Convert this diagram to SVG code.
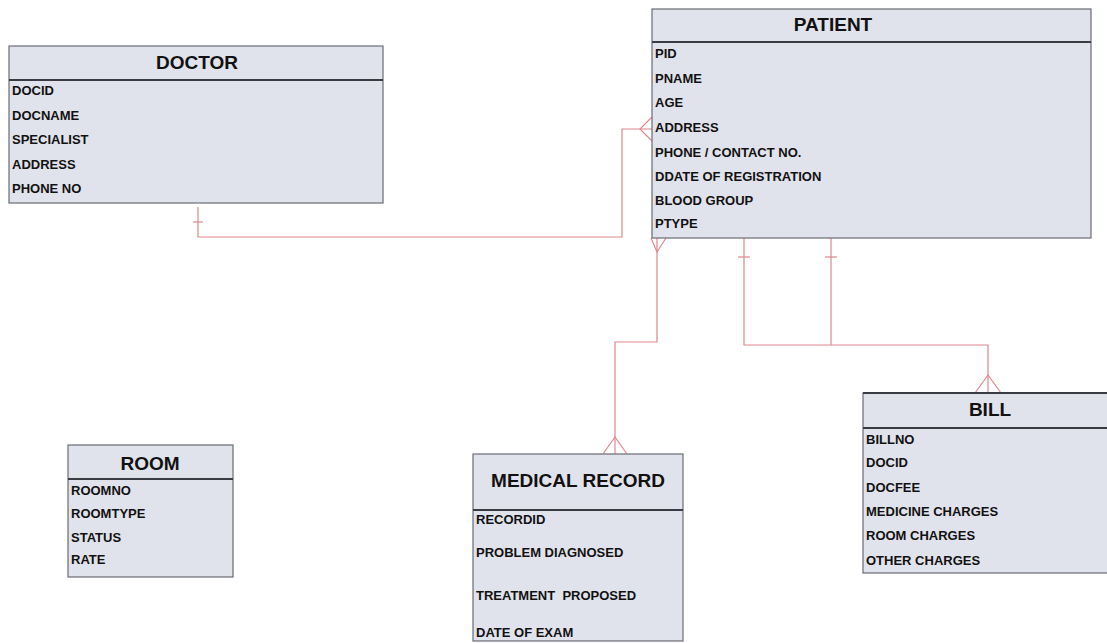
<svg xmlns="http://www.w3.org/2000/svg" width="1107" height="643" viewBox="0 0 1107 643">
<style>
.box{fill:#e1e3ec;stroke:#6a6c74;stroke-width:1.2}
.sep{stroke:#3a3c44;stroke-width:2}
.title{font-family:"Liberation Sans",Arial,sans-serif;font-weight:bold;font-size:19px;fill:#111;text-anchor:middle}
.attr{font-family:"Liberation Sans",Arial,sans-serif;font-weight:bold;font-size:13px;fill:#111}
.conn{fill:none;stroke:#e0888c;stroke-width:1.2}
</style>
<rect width="1107" height="643" fill="#ffffff"/>
<g id="connectors">
  <path class="conn" d="M198,207 V237 H622 V129 H652"/>
  <path class="conn" d="M193,222 H203"/>
  <path class="conn" d="M652,117 L640,129 L652,141"/>
  <path class="conn" d="M657,238 V342 H615 V454"/>
  <path class="conn" d="M651,238 L657,252 L666,238"/>
  <path class="conn" d="M603,454 L615,437 L627,454"/>
  <path class="conn" d="M744,238 V345 H988 V393"/>
  <path class="conn" d="M831,238 V345"/>
  <path class="conn" d="M738,257 H750"/>
  <path class="conn" d="M825,257 H837"/>
  <path class="conn" d="M975,393 L988,375 L1001,393"/>
</g>
<g id="doctor">
  <rect class="box" x="9" y="46" width="374" height="157"/>
  <line class="sep" x1="9" y1="80" x2="383" y2="80"/>
  <text class="title" x="197" y="69">DOCTOR</text>
  <text class="attr" x="12" y="95">DOCID</text>
  <text class="attr" x="12" y="120">DOCNAME</text>
  <text class="attr" x="12" y="144">SPECIALIST</text>
  <text class="attr" x="12" y="169">ADDRESS</text>
  <text class="attr" x="12" y="193">PHONE NO</text>
</g>
<g id="patient">
  <rect class="box" x="652" y="9" width="439" height="229"/>
  <line class="sep" x1="652" y1="42" x2="1091" y2="42"/>
  <text class="title" x="833" y="31" font-size="21">PATIENT</text>
  <text class="attr" x="655" y="58">PID</text>
  <text class="attr" x="655" y="83">PNAME</text>
  <text class="attr" x="655" y="107">AGE</text>
  <text class="attr" x="655" y="132">ADDRESS</text>
  <text class="attr" x="655" y="157">PHONE / CONTACT NO.</text>
  <text class="attr" x="655" y="181">DDATE OF REGISTRATION</text>
  <text class="attr" x="655" y="205">BLOOD GROUP</text>
  <text class="attr" x="655" y="228">PTYPE</text>
</g>
<g id="room">
  <rect class="box" x="68" y="445" width="165" height="132"/>
  <line class="sep" x1="68" y1="479" x2="233" y2="479"/>
  <text class="title" x="150" y="470">ROOM</text>
  <text class="attr" x="71" y="495">ROOMNO</text>
  <text class="attr" x="71" y="518">ROOMTYPE</text>
  <text class="attr" x="71" y="542">STATUS</text>
  <text class="attr" x="71" y="564">RATE</text>
</g>
<g id="medical-record">
  <rect class="box" x="473" y="454" width="210" height="187"/>
  <line class="sep" x1="473" y1="510" x2="683" y2="510"/>
  <text class="title" x="578" y="487">MEDICAL RECORD</text>
  <text class="attr" x="476" y="524">RECORDID</text>
  <text class="attr" x="476" y="557">PROBLEM DIAGNOSED</text>
  <text class="attr" x="476" y="600" xml:space="preserve">TREATMENT  PROPOSED</text>
  <text class="attr" x="476" y="637">DATE OF EXAM</text>
</g>
<g id="bill">
  <rect class="box" x="863" y="393" width="250" height="180"/>
  <line class="sep" x1="863" y1="393" x2="1107" y2="393"/>
  <line class="sep" x1="863" y1="428" x2="1107" y2="428"/>
  <text class="title" x="990" y="416">BILL</text>
  <text class="attr" x="866" y="444">BILLNO</text>
  <text class="attr" x="866" y="467">DOCID</text>
  <text class="attr" x="866" y="492">DOCFEE</text>
  <text class="attr" x="866" y="516">MEDICINE CHARGES</text>
  <text class="attr" x="866" y="540">ROOM CHARGES</text>
  <text class="attr" x="866" y="565">OTHER CHARGES</text>
</g>
</svg>
